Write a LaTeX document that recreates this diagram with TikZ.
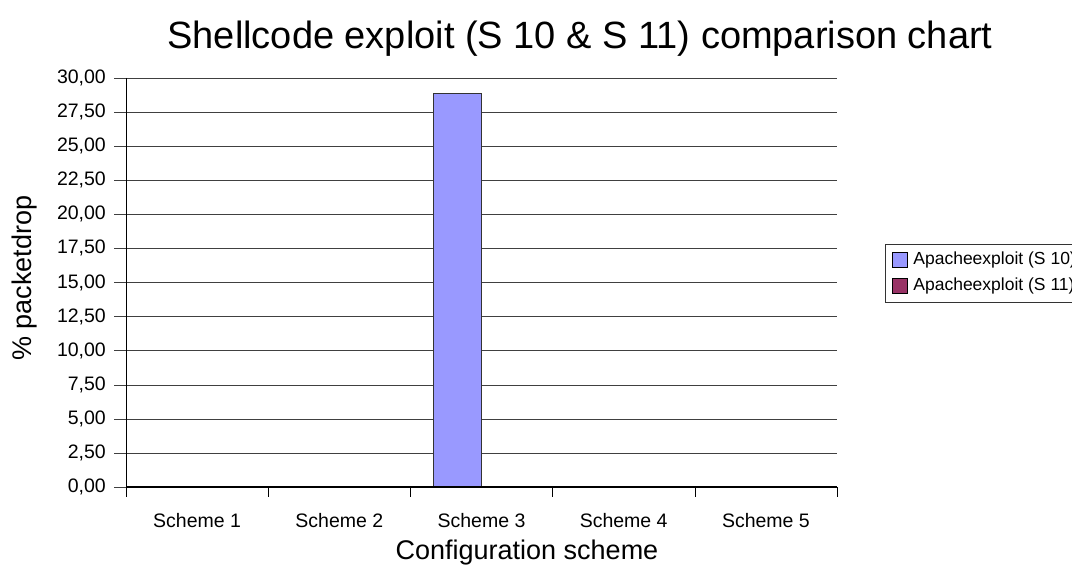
\documentclass[tikz,border=0pt]{standalone}
\usepackage{fontspec}
\setmainfont{Liberation Sans}
\usetikzlibrary{positioning}
\definecolor{barblue}{HTML}{9999FF}
\definecolor{barplum}{HTML}{993366}
\begin{document}
\begin{tikzpicture}[x=1pt,y=-1pt,
    ticklabel/.style={font=\fontsize{19.5}{21}\selectfont},
    axistitle/.style={font=\fontsize{27}{30}\selectfont},
    legendkey/.style={draw,minimum size=15pt,inner sep=0pt},
    legendtext/.style={font=\fontsize{17.5}{19}\selectfont,inner sep=0pt}]
  \useasboundingbox[fill=white] (0,0) rectangle (1072,567);
  \node[font=\fontsize{38}{40}\selectfont,anchor=base] (title) at (580,49) {Shellcode exploit (S 10 \& S 11) comparison chart};
  % grid and value labels, 2.50 per step
  \foreach \v in {0,2.5,...,30}{
    \draw[black!75] (114,487-13.633*\v) -- (837,487-13.633*\v);
    \node[ticklabel,left,inner sep=0pt] at (106,487-13.633*\v) {\pgfmathprintnumber[fixed,fixed zerofill,precision=2,use comma,assume math mode=true]{\v}};
  }
  \draw (126,78) -- (126,497);
  \foreach \i in {0,...,5}
    \draw (126+142.2*\i,487) -- (126+142.2*\i,497);
  \foreach \i in {1,...,5}
    \node[ticklabel,anchor=base] (scheme\i) at (126+142.2*\i-71.1,527) {Scheme \i};
  % bars
  \filldraw[fill=barblue,draw=black!80] (433,487) rectangle (481,93);
  \draw[line width=1.6pt] (126,487) -- (837,487);
  \node[axistitle,rotate=90,anchor=base] (ylabel) at (31,278) {\% packetdrop};
  \node[axistitle,anchor=base] (xlabel) at (527,559) {Configuration scheme};
  % legend
  \draw[black!80] (885,244) rectangle (1090,302);
  \node[legendkey,fill=barblue] (key10) at (899.5,259.5) {};
  \node[legendkey,fill=barplum] (key11) at (899.5,285.5) {};
  \node[right=6pt of key10,legendtext] (leg10) {Apacheexploit (S 10)};
  \node[right=6pt of key11,legendtext] (leg11) {Apacheexploit (S 11)};
\end{tikzpicture}
\end{document}
